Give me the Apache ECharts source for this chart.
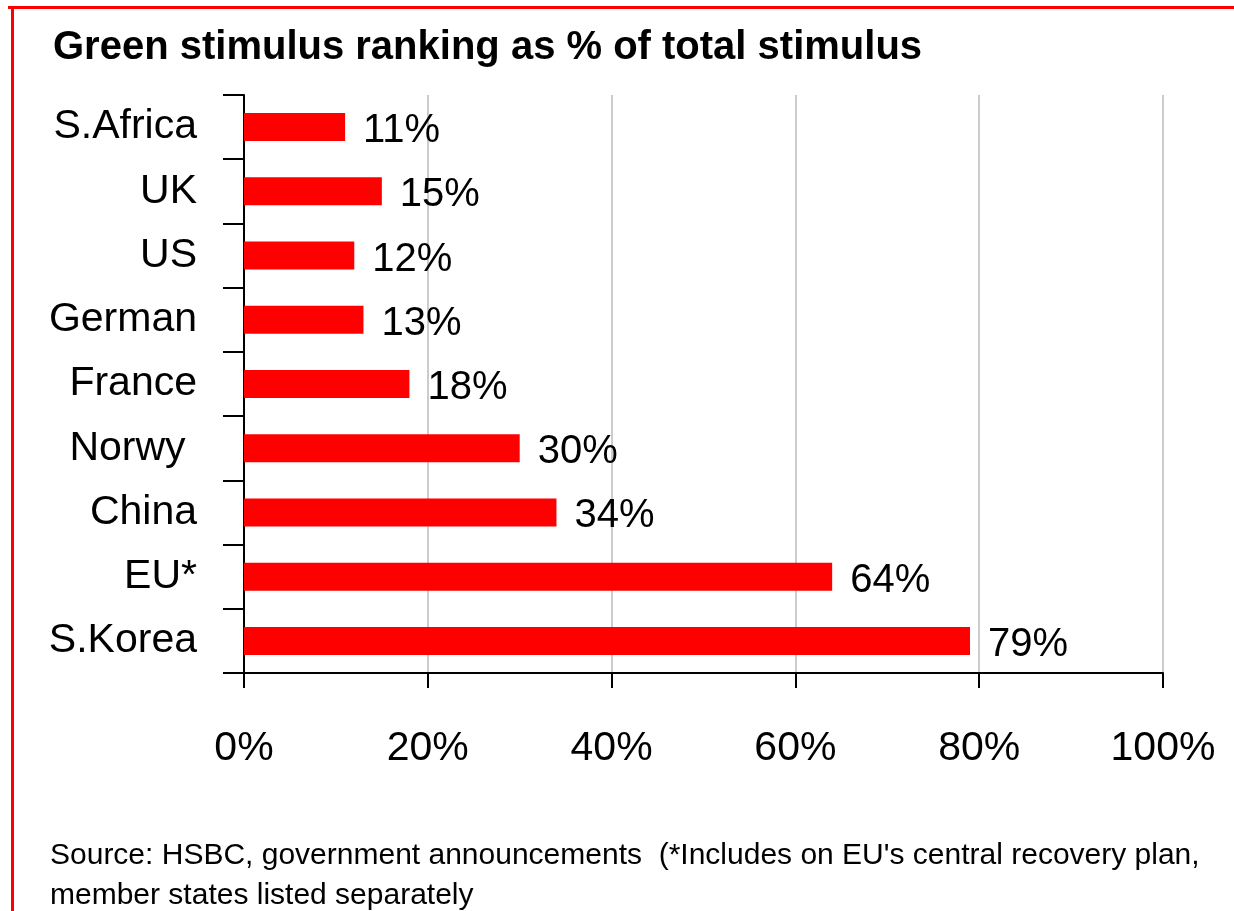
<!DOCTYPE html>
<html><head><meta charset="utf-8">
<script src="https://cdn.jsdelivr.net/npm/echarts@6/dist/echarts.min.js"></script>
<style>html,body{margin:0;padding:0;background:#fff}#c{width:1234px;height:911px}</style>
</head><body><div id="c"></div>
<script>
const categories = ["S.Africa","UK","US","German","France","Norwy ","China","EU*","S.Korea"];
const values = [11,15,12,13,18,30,34,64,79];
const xTicks = [0,20,40,60,80,100];
const titleText = "Green stimulus ranking as % of total stimulus";
const noteLine1 = "Source: HSBC, government announcements  (*Includes on EU's central recovery plan,";
const noteLine2 = "member states listed separately";

const FONT = "'Liberation Sans', Arial, sans-serif";
const chart = echarts.init(document.getElementById('c'), null, {renderer:'canvas'});
chart.setOption({
  backgroundColor:'#fff',
  animation:false,
  title:{text:titleText,left:48,top:23,textStyle:{fontFamily:FONT,fontSize:40,fontWeight:'bold',color:'#000'}},
  grid:{left:244,right:71,top:95,bottom:238,containLabel:false},
  xAxis:{type:'value',min:xTicks[0],max:xTicks[xTicks.length-1],interval:20,
    axisLine:{show:true,lineStyle:{color:'#000',width:2}},
    axisTick:{show:true,length:15,lineStyle:{color:'#000',width:2}},
    axisLabel:{formatter:'{value}%',fontFamily:FONT,fontSize:41,color:'#000',margin:55},
    splitLine:{show:true,lineStyle:{color:'#cccccc',width:2}}},
  yAxis:{type:'category',data:categories,inverse:true,
    axisLine:{show:true,lineStyle:{color:'#000',width:2}},
    axisTick:{show:true,length:21,lineStyle:{color:'#000',width:2}},
    axisLabel:{fontFamily:FONT,fontSize:41,color:'#000',margin:47,verticalAlign:'middle',padding:[0,0,6,0]}},
  series:[{type:'bar',data:values,barWidth:28,itemStyle:{color:'#ff0000'},
    label:{show:true,position:'right',distance:18,formatter:'{c}%',fontFamily:FONT,fontSize:40,color:'#000',offset:[0,4]}}],
  graphic:[
    {type:'line',shape:{x1:8,y1:7.5,x2:1234,y2:7.5},style:{stroke:'#ff0000',lineWidth:3}},
    {type:'line',shape:{x1:12.5,y1:6,x2:12.5,y2:911},style:{stroke:'#ff0000',lineWidth:3}},
    {type:'text',left:50,top:841,style:{text:noteLine1,font:"30px 'Liberation Sans', Arial, sans-serif",fill:'#000'}},
    {type:'text',left:50,top:881,style:{text:noteLine2,font:"30px 'Liberation Sans', Arial, sans-serif",fill:'#000'}}
  ]
});
</script></body></html>
